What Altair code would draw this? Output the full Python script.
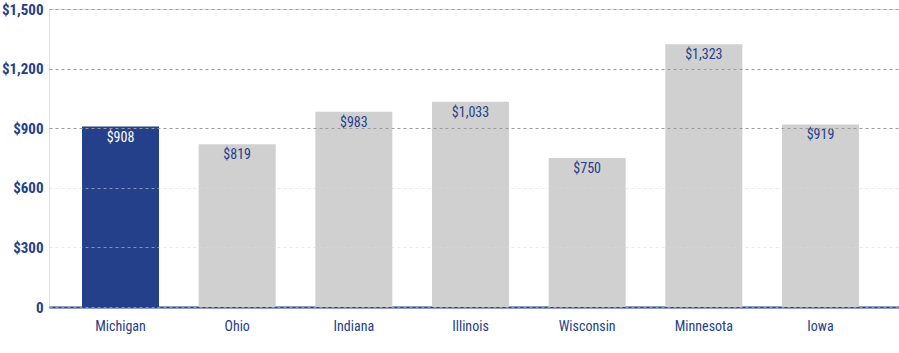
import altair as alt
import pandas as pd

states = ["Michigan", "Ohio", "Indiana", "Illinois", "Wisconsin", "Minnesota", "Iowa"]
values = [908, 819, 983, 1033, 750, 1323, 919]
highlight = [True, False, False, False, False, False, False]
labels = ["$908", "$819", "$983", "$1,033", "$750", "$1,323", "$919"]

df = pd.DataFrame({"state": states, "value": values, "hl": highlight, "label": labels})

NAVY = "#24408a"
GRAY = "#d0d0d0"
FONT = "Roboto Condensed, Liberation Sans Narrow, Roboto, sans-serif"

x = alt.X("state:N", sort=states, title=None,
          scale=alt.Scale(paddingInner=0.34, paddingOuter=0.313, align=0.452),
          axis=alt.Axis(labelAngle=0, labelColor=NAVY, labelFontSize=14, labelFont=FONT,
                        labelPadding=12, ticks=False, domain=True, domainColor=NAVY,
                        domainWidth=2))
y = alt.Y("value:Q", title=None,
          scale=alt.Scale(domain=[0, 1500], nice=False),
          axis=alt.Axis(values=[0, 300, 600, 900, 1200, 1500],
                        labelExpr="datum.value == 0 ? '0' : '$' + format(datum.value, ',')",
                        labelColor=NAVY, labelFontSize=15, labelFontWeight="bold",
                        labelFont=FONT, labelPadding=6, ticks=False, domain=False,
                        grid=True,
                        gridColor=alt.ExprRef(expr="datum.value >= 900 ? '#9c9c9c' : 'rgba(215,215,225,0.55)'"),
                        gridDash=[3, 3], gridWidth=1, zindex=1))

bars = alt.Chart(df).mark_bar().encode(
    x=x, y=y,
    color=alt.Color("hl:N", scale=alt.Scale(domain=[True, False], range=[NAVY, GRAY]), legend=None),
)

text = alt.Chart(df).mark_text(baseline="top", dy=4, fontSize=14, font=FONT).encode(
    x=alt.X("state:N", sort=states),
    y=alt.Y("value:Q"),
    text="label:N",
    color=alt.Color("hl:N", scale=alt.Scale(domain=[True, False], range=["#ffffff", NAVY]), legend=None),
)

chart = alt.layer(bars, text).resolve_scale(color="independent").properties(
    width=850, height=298,
    autosize=alt.AutoSizeParams(type="none"),
    padding={"left": 49, "top": 9, "right": 0, "bottom": 46},
).configure_view(strokeWidth=0, stroke="transparent").configure(background="white")

chart.save("out.html", embed_options={"renderer": "svg", "actions": False})
